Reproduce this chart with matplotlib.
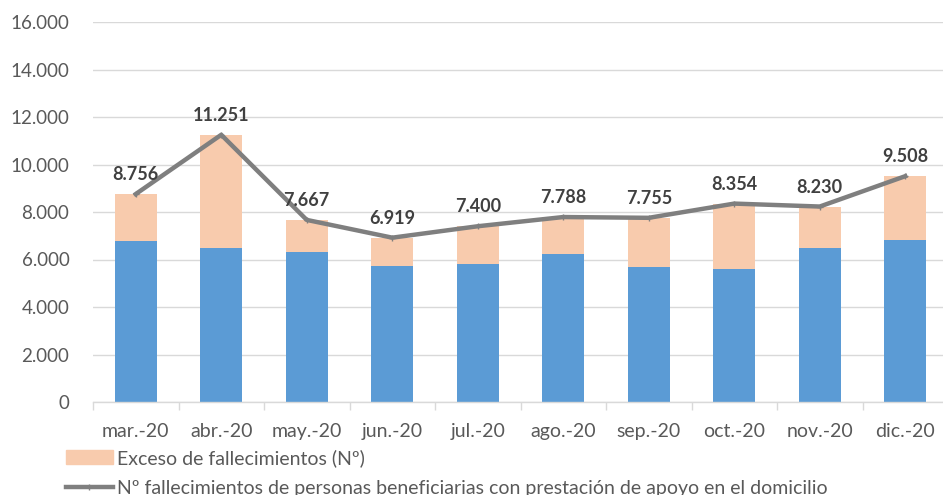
import numpy as np
import matplotlib.pyplot as plt
from matplotlib.patches import Patch
from matplotlib.lines import Line2D

plt.rcParams['font.family'] = ['Lato', 'DejaVu Sans']

months = ['mar.-20', 'abr.-20', 'may.-20', 'jun.-20', 'jul.-20',
          'ago.-20', 'sep.-20', 'oct.-20', 'nov.-20', 'dic.-20']
total = [8756, 11251, 7667, 6919, 7400, 7788, 7755, 8354, 8230, 9508]
base = [6760, 6480, 6310, 5740, 5800, 6240, 5670, 5580, 6480, 6830]
excess = [t - b for t, b in zip(total, base)]

BLUE = '#5B9BD5'
PEACH = '#F8CBAD'
LINE = '#7F7F7F'
TXT = '#595959'
LBL = '#404040'
GRID = '#D9D9D9'

W, H = 943, 495
fig = plt.figure(figsize=(W / 100, H / 100), dpi=100)
ax = fig.add_axes([93 / W, 93 / H, 855 / W, 380 / H])

x = np.arange(len(months))
ax.bar(x, base, width=0.49, color=BLUE, zorder=2)
ax.bar(x, excess, bottom=base, width=0.49, color=PEACH, zorder=2)
ax.plot(x, total, color=LINE, lw=3.2, marker='+', ms=4, mew=1, zorder=3)

for xi, v in zip(x, total):
    s = f'{v:,}'.replace(',', '.')
    ax.annotate(s, (xi, v), xytext=(0, 14), textcoords='offset points',
                ha='center', va='center', fontsize=13, fontweight='bold', color=LBL)

ax.set_xlim(-0.5, len(months) - 0.5)
ax.set_ylim(0, 16000)
ax.set_yticks(np.arange(0, 16001, 2000))
ax.set_yticklabels([f'{v:,}'.replace(',', '.') if v else '0' for v in range(0, 16001, 2000)])
ax.set_xticks(x)
ax.set_xticklabels(months)
ax.set_xticks(np.arange(-0.5, len(months), 1), minor=True)

ax.grid(axis='y', color=GRID, lw=1, zorder=0)
for s in ['top', 'right', 'left']:
    ax.spines[s].set_visible(False)
ax.spines['bottom'].set_color(GRID)
ax.spines['bottom'].set_linewidth(1)
ax.tick_params(axis='y', length=0, labelsize=13.5, labelcolor=TXT, pad=17)
ax.tick_params(axis='x', which='major', length=0, labelsize=14, labelcolor=TXT, pad=15)
ax.tick_params(axis='x', which='minor', length=6, color=GRID, width=1)

handles = [Patch(color=PEACH),
           Line2D([0], [0], color=LINE, lw=3.2, marker='+', ms=4)]
labels = ['Exceso de fallecimientos (Nº)',
          'Nº fallecimientos de personas beneficiarias con prestación de apoyo en el domicilio']
fig.legend(handles, labels, loc='upper left', bbox_to_anchor=(66 / W, 1 - 449 / H),
           frameon=False, fontsize=14, labelcolor=TXT, handlelength=2.4,
           handletextpad=0.2, labelspacing=0.65, borderaxespad=0, borderpad=0)

fig.savefig('out.png', dpi=100)
